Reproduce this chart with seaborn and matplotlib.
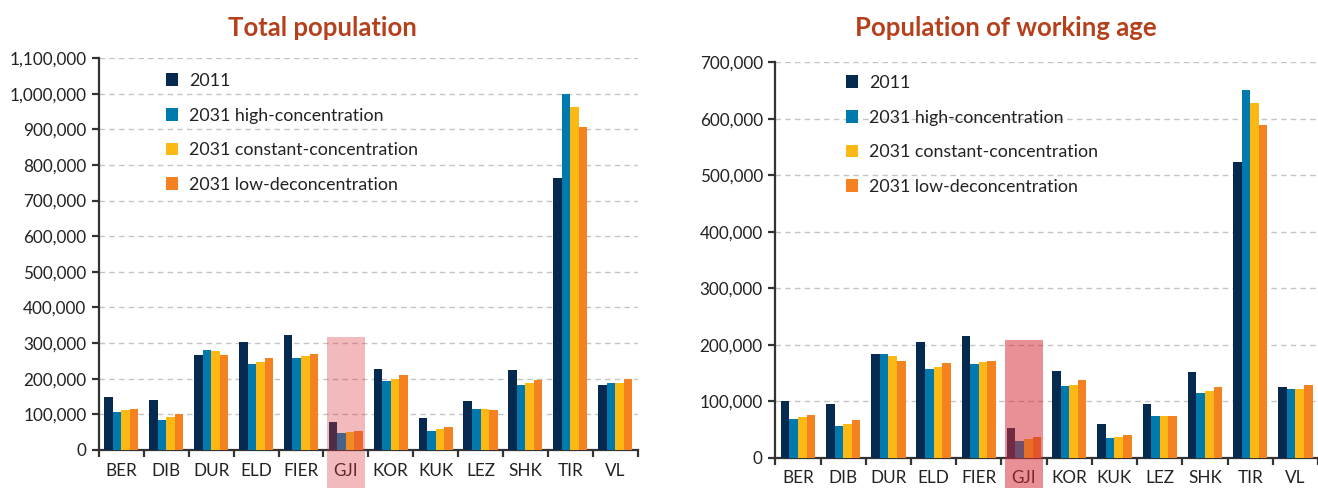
import matplotlib
matplotlib.use("Agg")
import matplotlib.pyplot as plt
import matplotlib.transforms as mtransforms
from matplotlib.patches import Patch, Rectangle
from matplotlib.ticker import FuncFormatter, MultipleLocator
import seaborn as sns
import pandas as pd

districts = ["BER", "DIB", "DUR", "ELD", "FIER", "GJI", "KOR", "KUK", "LEZ", "SHK", "TIR", "VL"]
scenarios = ["2011", "2031 high-concentration", "2031 constant-concentration", "2031 low-deconcentration"]

total_2011 = [149000, 141000, 267000, 304000, 323000, 78000, 228000, 89000, 138000, 225000, 763000, 183000]
total_high = [107000, 85000, 282000, 242000, 257000, 47000, 195000, 54000, 114000, 183000, 998000, 187000]
total_const = [112000, 93000, 277000, 248000, 264000, 51000, 198000, 59000, 115000, 187000, 962000, 189000]
total_low = [116000, 100000, 266000, 259000, 268000, 54000, 211000, 64000, 113000, 197000, 906000, 198000]

work_2011 = [100000, 95000, 183000, 204000, 216000, 52000, 154000, 59000, 95000, 151000, 524000, 125000]
work_high = [69000, 56000, 183000, 157000, 165000, 30000, 127000, 34000, 73000, 115000, 651000, 121000]
work_const = [72000, 60000, 180000, 161000, 169000, 33000, 129000, 37000, 73000, 118000, 627000, 121000]
work_low = [75000, 66000, 172000, 168000, 172000, 36000, 137000, 40000, 73000, 125000, 588000, 128000]

titles = ["Total population", "Population of working age"]
highlight = "GJI"

colors = ["#062a4f", "#0079ad", "#fdb913", "#f58220"]
title_color = "#b5401b"


def long_df(series_list):
    rows = []
    for scen, vals in zip(scenarios, series_list):
        for d, v in zip(districts, vals):
            rows.append({"district": d, "scenario": scen, "value": v})
    return pd.DataFrame(rows)


sns.set_theme(style="white")
plt.rcParams["font.family"] = ["Lato", "DejaVu Sans"]

fig = plt.figure(figsize=(13.18, 4.88), dpi=100)
W, H = 1318.0, 488.0


def px_axes(x0, x1, ybot, ytop):
    return fig.add_axes([x0 / W, 1 - ybot / H, (x1 - x0) / W, (ybot - ytop) / H])


ax1 = px_axes(99, 637.6, 450, 58)
ax2 = px_axes(775.3, 1318, 457.7, 62.2)

configs = [
    (ax1, [total_2011, total_high, total_const, total_low], 1100000, (0.124, 0.962), 322, "#d9363e", 0.34, 337),
    (ax2, [work_2011, work_high, work_const, work_low], 700000, (0.130, 0.968), 1006, "#d42a36", 0.52, 340),
]

for ax, series, ymax, leg_anchor, title_x, hcol, halpha, htop in configs:
    df = long_df(series)
    sns.barplot(data=df, x="district", y="value", hue="scenario", order=districts,
                hue_order=scenarios, palette=colors, saturation=1, width=0.76,
                errorbar=None, ax=ax, legend=False, linewidth=0, zorder=3)
    ax.set_xlim(-0.5, len(districts) - 0.5)
    ax.set_ylim(0, ymax)
    ax.yaxis.set_major_locator(MultipleLocator(100000))
    ax.yaxis.set_major_formatter(FuncFormatter(lambda v, p: f"{v:,.0f}"))
    ax.set_xlabel("")
    ax.set_ylabel("")
    ax.grid(axis="y", color="#c4c4c4", linestyle=(0, (4, 3)), linewidth=1.0, zorder=0)
    ax.set_axisbelow(True)
    for s in ["top", "right"]:
        ax.spines[s].set_visible(False)
    for s in ["left", "bottom"]:
        ax.spines[s].set_color("#333333")
        ax.spines[s].set_linewidth(1.6)
    ax.set_xticks(range(len(districts)))
    ax.set_xticklabels(districts)
    ax.set_xticks([i - 0.5 for i in range(len(districts) + 1)], minor=True)
    ax.tick_params(axis="x", which="major", length=0, pad=9, labelsize=12.3, labelcolor="#222222")
    ax.tick_params(axis="x", which="minor", length=5, width=1.6, color="#333333", direction="out", bottom=True)
    ax.tick_params(axis="y", which="major", length=5, width=1.6, color="#333333", direction="out",
                   left=True, labelsize=12.3, labelcolor="#222222", pad=4)

    handles = [Patch(facecolor=c, edgecolor="none") for c in colors]
    ax.legend(handles, scenarios, loc="upper left", bbox_to_anchor=leg_anchor, frameon=False,
              fontsize=12.8, handlelength=0.7, handleheight=0.7, handletextpad=0.6,
              labelspacing=1.05, borderpad=0, borderaxespad=0, labelcolor="#222222")

    gi = districts.index(highlight)
    trans = mtransforms.blended_transform_factory(ax.transData, fig.transFigure)
    rect = Rectangle((gi - 0.43, 0), 0.86, 1 - htop / H, transform=trans, facecolor=hcol,
                     alpha=halpha, edgecolor="none", clip_on=False, zorder=10)
    ax.add_patch(rect)

for tx, t in zip([322, 1006], titles):
    fig.text(tx / W, 1 - 28 / H, t, ha="center", va="center", fontsize=18.5,
             fontweight="bold", color=title_color)

fig.savefig("out.png", dpi=100)
